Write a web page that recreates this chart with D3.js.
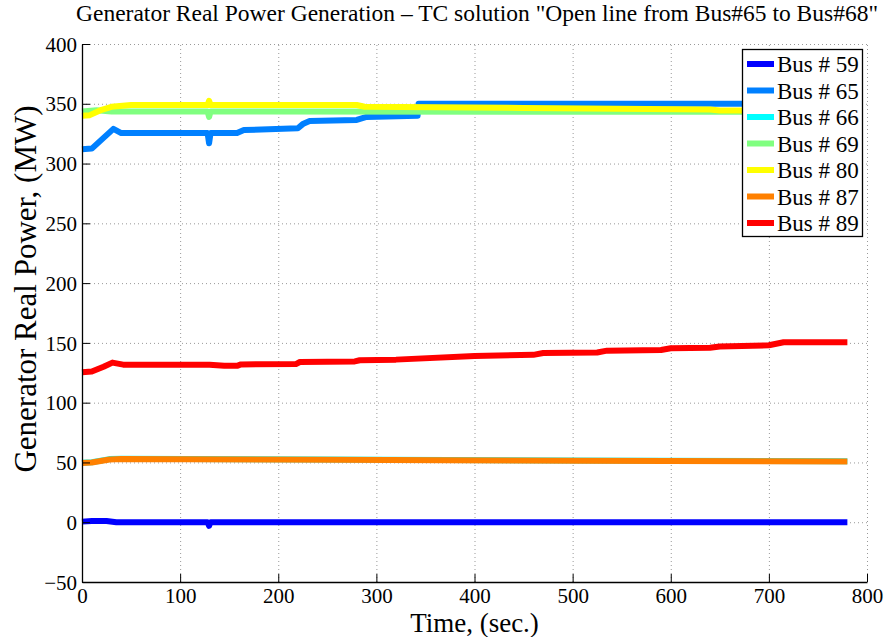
<!DOCTYPE html>
<html>
<head>
<meta charset="utf-8">
<script src="https://cdn.jsdelivr.net/npm/d3@7"></script>
<style>
  body { margin: 0; background: #fff; }
  text { font-family: "Liberation Serif", "Times New Roman", serif; fill: #000; }
</style>
</head>
<body>
<script>
// series (time in s, power in MW)
var busNames = ["Bus # 59", "Bus # 65", "Bus # 66", "Bus # 69", "Bus # 80", "Bus # 87", "Bus # 89"];
var busColors = ["#0000ff", "#0080ff", "#00ffff", "#80ff80", "#ffff00", "#ff8000", "#ff0000"];

var bus59T = [0, 10, 25, 35, 128, 129.5, 131, 780];
var bus59P = [0.5, 1, 1, 0, 0, -3, 0, 0];

var bus65T = [0, 10, 20, 32, 40, 128, 129.5, 131, 158, 165, 220, 225, 232, 280, 290, 342, 343, 780];
var bus65P = [312, 312.5, 320, 329, 325.5, 325.5, 317, 325.5, 325.5, 328, 329.5, 333, 335.5, 336.5, 339, 340, 350, 350];

var bus66T = [0, 10, 28, 40, 250, 500, 780];
var bus66P = [49.8, 50.2, 52.8, 53, 52.5, 51.6, 50.9];

var bus69T = [0, 15, 30, 128, 129.5, 131, 780];
var bus69P = [343.5, 344.5, 343.5, 343.5, 339, 343.5, 343.2];

var bus80T = [0, 8, 20, 30, 50, 128, 129.5, 131, 280, 288, 450, 640, 650, 780];
var bus80P = [340, 340.5, 345, 347.5, 349, 349, 352.5, 349, 349, 347.5, 346.5, 345.2, 344.3, 344.3];

var bus87T = [0, 10, 28, 40, 250, 500, 780];
var bus87P = [49.5, 50, 52.5, 52.8, 52.3, 51.5, 50.8];

var bus89T = [0, 10, 22, 31, 42, 130, 145, 158, 162, 218, 222, 278, 283, 320, 400, 460, 470, 525, 535, 590, 600, 640, 650, 700, 715, 780];
var bus89P = [125.5, 126, 130, 133.5, 131.8, 131.8, 130.8, 130.8, 132, 132.3, 134, 134.5, 135.5, 136, 139, 140, 141.5, 142, 143.5, 144, 145.5, 146, 147, 148, 150.5, 150.5];

var xTicks = [0, 100, 200, 300, 400, 500, 600, 700, 800];
var yTicks = [-50, 0, 50, 100, 150, 200, 250, 300, 350, 400];

var series = [
  [bus59T, bus59P], [bus65T, bus65P], [bus66T, bus66P], [bus69T, bus69P],
  [bus80T, bus80P], [bus87T, bus87P], [bus89T, bus89P]
];

var W = 889, H = 637,
    plotLeft = 82, plotRight = 867, plotTop = 44, plotBottom = 582,
    tickLen = 8;

var svg = d3.select("body").append("svg")
    .attr("width", W)
    .attr("height", H);

var x = d3.scaleLinear().domain([0, 800]).range([plotLeft, plotRight]);
var y = d3.scaleLinear().domain([-50, 400]).range([plotBottom, plotTop]);

// dotted grid
var grid = svg.append("g")
    .attr("stroke", "#999")
    .attr("stroke-width", 1)
    .attr("stroke-dasharray", "1,3");
xTicks.slice(1).forEach(function(t){
  grid.append("line")
      .attr("x1", x(t) + 0.5).attr("x2", x(t) + 0.5)
      .attr("y1", plotBottom).attr("y2", plotTop);
});
yTicks.slice(1).forEach(function(t){
  grid.append("line")
      .attr("x1", plotLeft).attr("x2", plotRight)
      .attr("y1", y(t) + 0.5).attr("y2", y(t) + 0.5);
});

// lines
var line = d3.line()
    .x(function(d){ return x(d[0]); })
    .y(function(d){ return y(d[1]); });

series.forEach(function(s, i){
  var pts = s[0].map(function(t, j){ return [t, s[1][j]]; });
  svg.append("path")
      .datum(pts)
      .attr("fill", "none")
      .attr("stroke", busColors[i])
      .attr("stroke-width", 6)
      .attr("stroke-linejoin", "round")
      .attr("d", line);
});

// axes
var xAxis = d3.axisBottom(x).tickValues(xTicks).tickSizeInner(-tickLen).tickSizeOuter(0).tickPadding(8);
var yAxis = d3.axisLeft(y).tickValues(yTicks).tickSizeInner(-tickLen).tickSizeOuter(0).tickPadding(5);

var gx = svg.append("g").attr("transform", "translate(0," + plotBottom + ")").call(xAxis);
var gy = svg.append("g").attr("transform", "translate(" + plotLeft + ",0)").call(yAxis);
[gx, gy].forEach(function(g){
  g.select(".domain").attr("stroke", "#000").attr("stroke-width", 1.3);
  g.selectAll(".tick line").attr("stroke", "#000");
  g.selectAll(".tick text")
      .style("font-family", "Liberation Serif")
      .style("font-size", "21px")
      .attr("fill", "#000");
});
gx.selectAll(".tick text").attr("dy", "0.6em");
gy.selectAll(".tick text").attr("dy", "0.34em");

// titles
svg.append("text")
    .attr("x", 477).attr("y", 21)
    .attr("text-anchor", "middle")
    .style("font-size", "23.5px")
    .text("Generator Real Power Generation \u2013 TC solution \"Open line from Bus#65 to Bus#68\"");

svg.append("text")
    .attr("x", (plotLeft + plotRight) / 2).attr("y", 632)
    .attr("text-anchor", "middle")
    .style("font-size", "27px")
    .text("Time, (sec.)");

svg.append("text")
    .attr("transform", "translate(36," + 289 + ") rotate(-90)")
    .attr("text-anchor", "middle")
    .style("font-size", "31px")
    .text("Generator Real Power, (MW)");

// legend
var lg = svg.append("g");
lg.append("rect")
    .attr("x", 742.5).attr("y", 49.5)
    .attr("width", 120).attr("height", 187)
    .attr("fill", "#fff")
    .attr("stroke", "#000")
    .attr("stroke-width", 1.3);
busNames.forEach(function(name, i){
  var cy = 64 + i * 26.5;
  lg.append("line")
      .attr("x1", 747).attr("x2", 774)
      .attr("y1", cy).attr("y2", cy)
      .attr("stroke", busColors[i])
      .attr("stroke-width", 6);
  lg.append("text")
      .attr("x", 777).attr("y", cy + 8)
      .style("font-size", "23px")
      .text(name);
});
</script>
</body>
</html>
